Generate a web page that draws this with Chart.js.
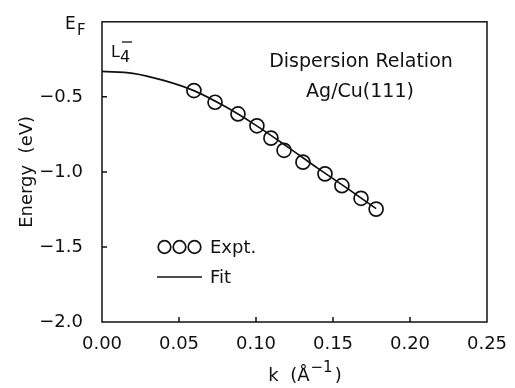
<!DOCTYPE html>
<html>
<head>
<meta charset="utf-8">
<script src="https://cdn.jsdelivr.net/npm/chart.js@4"></script>
<style>
  html, body { margin: 0; padding: 0; background: #fff; }
  #wrap { width: 515px; height: 388px; }
</style>
</head>
<body>
<div id="wrap"><canvas id="dispersion"></canvas></div>
<script>
// measured points (k in 1/Å, energy in eV)
const exptK = [0.0597, 0.0734, 0.0883, 0.1006, 0.1097, 0.1182, 0.1305, 0.1448, 0.1558, 0.1682, 0.178];
const exptE = [-0.458, -0.536, -0.614, -0.693, -0.775, -0.856, -0.935, -1.013, -1.092, -1.176, -1.248];

// fit curve
const fitK = [0, 0.02, 0.04, 0.06, 0.08, 0.10, 0.12, 0.14, 0.16, 0.178];
const fitE = [-0.33, -0.343, -0.39, -0.46, -0.565, -0.69, -0.83, -0.975, -1.115, -1.245];

const xTickLabels = ["0.00", "0.05", "0.10", "0.15", "0.20", "0.25"];
const yTickLabels = ["\u22122.0", "\u22121.5", "\u22121.0", "\u22120.5", ""];

const font = "DejaVu Sans";
const ink = "#111";

const frame = {
  id: "frame",
  afterDraw(chart) {
    const { ctx, chartArea: a, scales } = chart;
    const x = scales.x, y = scales.y;
    ctx.save();
    ctx.strokeStyle = ink;
    ctx.lineWidth = 1.5;
    ctx.strokeRect(a.left, a.top, a.right - a.left, a.bottom - a.top);

    // inward ticks
    ctx.beginPath();
    [0.05, 0.10, 0.15, 0.20].forEach((v) => {
      const px = x.getPixelForValue(v);
      ctx.moveTo(px, a.bottom);
      ctx.lineTo(px, a.bottom - 5);
    });
    [-0.5, -1.0, -1.5].forEach((v) => {
      const py = y.getPixelForValue(v);
      ctx.moveTo(a.left, py);
      ctx.lineTo(a.left + 5, py);
    });
    ctx.stroke();

    ctx.fillStyle = ink;
    ctx.textBaseline = "alphabetic";

    // E_F at the top of the energy axis
    const top = y.getPixelForValue(0);
    ctx.font = "17px " + font;
    ctx.textAlign = "left";
    ctx.fillText("E", 65, top + 7);
    ctx.font = "15px " + font;
    ctx.fillText("F", 77, top + 13);

    // L4- label
    ctx.font = "16px " + font;
    ctx.fillText("L", 111, 57);
    ctx.fillText("4", 120, 62);
    ctx.beginPath();
    ctx.lineWidth = 1.3;
    ctx.moveTo(122, 42);
    ctx.lineTo(132, 42);
    ctx.stroke();

    // title inside plot
    ctx.font = "19px " + font;
    ctx.textAlign = "center";
    ctx.fillText("Dispersion Relation", 361, 67);
    ctx.fillText("Ag/Cu(111)", 360, 97);

    // legend
    const ds0 = chart.data.datasets[0];
    ctx.lineWidth = ds0.borderWidth;
    [164.5, 179.5, 194.5].forEach((cx) => {
      ctx.beginPath();
      ctx.arc(cx, 247, 6.3, 0, Math.PI * 2);
      ctx.stroke();
    });
    ctx.beginPath();
    ctx.lineWidth = chart.data.datasets[1].borderWidth;
    ctx.moveTo(157, 277);
    ctx.lineTo(202, 277);
    ctx.stroke();
    ctx.font = "18px " + font;
    ctx.textAlign = "left";
    ctx.textBaseline = "middle";
    ctx.fillText("Expt.", 210, 248);
    ctx.fillText("Fit", 210, 278);

    // axis titles
    ctx.textBaseline = "alphabetic";
    ctx.font = "18px " + font;
    const base = "k  (\u00c5";
    const baseW = ctx.measureText(base).width;
    ctx.font = "15px " + font;
    const supW = ctx.measureText("\u22121").width;
    ctx.font = "18px " + font;
    const closeW = ctx.measureText(")").width;
    let left = 305 - (baseW + supW + closeW + 3) / 2;
    ctx.fillText(base, left, 381);
    ctx.font = "15px " + font;
    ctx.fillText("\u22121", left + baseW + 1, 372);
    ctx.font = "18px " + font;
    ctx.fillText(")", left + baseW + supW + 3, 381);

    ctx.textBaseline = "middle";
    ctx.translate(27, (a.top + a.bottom) / 2);
    ctx.rotate(-Math.PI / 2);
    ctx.textAlign = "center";
    ctx.fillText("Energy  (eV)", 0, 0);
    ctx.restore();
  },
};

new Chart(document.getElementById("dispersion"), {
  type: "scatter",
  data: {
    datasets: [
      {
        label: "Expt.",
        data: exptK.map((k, i) => ({ x: k, y: exptE[i] })),
        pointStyle: "circle",
        pointRadius: 7,
        pointBorderWidth: 1.7,
        borderWidth: 1.7,
        pointBorderColor: ink,
        pointBackgroundColor: "rgba(0,0,0,0)",
        showLine: false,
      },
      {
        label: "Fit",
        data: fitK.map((k, i) => ({ x: k, y: fitE[i] })),
        showLine: true,
        borderColor: ink,
        borderWidth: 1.7,
        pointRadius: 0,
        cubicInterpolationMode: "monotone",
      },
    ],
  },
  options: {
    responsive: true,
    maintainAspectRatio: false,
    animation: false,
    layout: { padding: { top: 17, right: 28, left: 0, bottom: 0 } },
    plugins: { legend: { display: false }, tooltip: { enabled: false } },
    scales: {
      x: {
        type: "linear",
        min: 0,
        max: 0.25,
        grid: { display: false },
        border: { display: false },
        afterFit: (s) => { s.height = 66; },
        ticks: {
          stepSize: 0.05,
          padding: 4,
          color: ink,
          font: { family: font, size: 18 },
          callback: (v, i) => xTickLabels[i],
        },
      },
      y: {
        min: -2,
        max: 0,
        grid: { display: false },
        border: { display: false },
        afterFit: (s) => { s.width = 102; },
        ticks: {
          stepSize: 0.5,
          padding: 11,
          color: ink,
          font: { family: font, size: 18 },
          callback: (v, i) => yTickLabels[i],
        },
      },
    },
  },
  plugins: [frame],
});
</script>
</body>
</html>
